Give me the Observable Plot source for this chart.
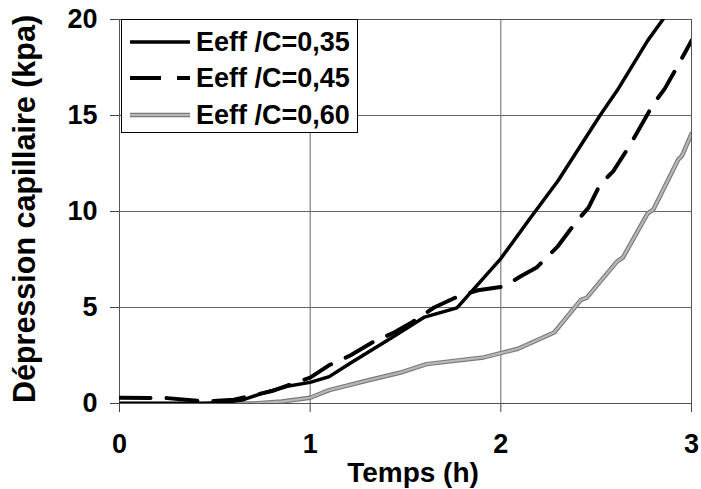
<!DOCTYPE html>
<html>
<head>
<meta charset="utf-8">
<script src="https://cdn.jsdelivr.net/npm/d3@7"></script>
<script src="https://cdn.jsdelivr.net/npm/@observablehq/plot@0.6"></script>
<style>
  html, body { margin: 0; padding: 0; background: #fff; }
  #chart { position: relative; width: 701px; height: 489px; }
</style>
</head>
<body>
<div id="chart"></div>
<script>
// Series labels
const seriesNames = ["Eeff /C=0,35", "Eeff /C=0,45", "Eeff /C=0,60"];

// Eeff/C = 0,35 (solid black)
const time035 = [0, 0.2, 0.44, 0.55, 0.65, 0.74, 0.88, 1.0, 1.1, 1.21, 1.44, 1.6, 1.77, 2.0, 2.15, 2.3, 2.52, 2.61, 2.77, 2.85];
const dep035  = [0, 0, 0, 0.05, 0.2, 0.5, 0.9, 1.1, 1.4, 2.1, 3.5, 4.5, 4.98, 7.55, 9.6, 11.6, 15.0, 16.3, 18.9, 20.0];

// Eeff/C = 0,45 (dashed black)
const time045 = [0, 0.25, 0.45, 0.6, 0.8, 1.0, 1.1, 1.21, 1.33, 1.44, 1.53, 1.65, 1.78, 1.88, 2.02, 2.10, 2.19, 2.30, 2.39, 2.46, 2.52, 2.59, 2.68, 2.80, 2.86, 2.94, 3.0];
const dep045  = [0.3, 0.28, 0.1, 0.2, 0.65, 1.35, 2.0, 2.5, 3.2, 3.7, 4.2, 5.0, 5.6, 5.9, 6.1, 6.6, 7.1, 8.2, 9.4, 10.2, 11.4, 12.1, 13.5, 15.6, 16.4, 17.8, 18.9];

// Eeff/C = 0,60 (grey)
const time060 = [0, 0.7, 0.85, 1.0, 1.1, 1.3, 1.47, 1.61, 1.91, 2.09, 2.28, 2.42, 2.45, 2.61, 2.64, 2.77, 2.8, 2.93, 2.95, 3.0];
const dep060  = [0, 0, 0.1, 0.3, 0.7, 1.2, 1.6, 2.05, 2.4, 2.85, 3.7, 5.4, 5.5, 7.4, 7.6, 9.9, 10.1, 12.7, 12.9, 14.05];

// Axis ticks and titles
const xTicks = [0, 1, 2, 3];
const yTicks = [0, 5, 10, 15, 20];
const xTitle = "Temps (h)";
const yTitle = "Dépression capillaire (kpa)";

const toRows = (t, v) => t.map((x, i) => ({x, y: v[i]}));
const rows035 = toRows(time035, dep035);
const rows045 = toRows(time045, dep045);
const rows060 = toRows(time060, dep060);

const FONT = "'Liberation Sans', Arial, sans-serif";

const plot = Plot.plot({
  width: 701,
  height: 489,
  marginLeft: 119,
  marginRight: 10,
  marginTop: 19,
  marginBottom: 86,
  style: {fontFamily: FONT, fontWeight: "bold", fontSize: "27px", background: "#fff", color: "#000"},
  x: {domain: [0, 3], ticks: xTicks, label: null},
  y: {domain: [0, 20], ticks: yTicks, label: null},
  marks: [
    Plot.gridX(xTicks, {stroke: "#666", strokeOpacity: 1}),
    Plot.gridY(yTicks, {stroke: "#666", strokeOpacity: 1}),
    Plot.frame({stroke: "#555"}),
    Plot.axisX(xTicks, {tickSize: 9, tickPadding: 21, tickFormat: d => String(d), stroke: "#444", label: null}),
    Plot.axisY(yTicks, {tickSize: 9, tickPadding: 13, tickFormat: d => String(d), stroke: "#444", label: null}),
    Plot.line(rows060, {x: "x", y: "y", stroke: "#7a7a7a", strokeWidth: 4.5, clip: true}),
    Plot.line(rows060, {x: "x", y: "y", stroke: "#b8b8b8", strokeWidth: 2.2, clip: true}),
    Plot.line(rows045, {x: "x", y: "y", stroke: "#000", strokeWidth: 4, strokeDasharray: "31,16", clip: true}),
    Plot.line(rows035, {x: "x", y: "y", stroke: "#000", strokeWidth: 3.5, clip: true})
  ]
});

document.getElementById("chart").appendChild(plot);

const svg = d3.select(plot);

// Axis titles
svg.append("text")
  .attr("x", 413).attr("y", 482)
  .attr("text-anchor", "middle")
  .attr("font-family", FONT).attr("font-weight", "bold").attr("font-size", 28)
  .attr("fill", "#000")
  .text(xTitle);

svg.append("text")
  .attr("transform", "translate(35,209) rotate(-90)")
  .attr("text-anchor", "middle")
  .attr("font-family", FONT).attr("font-weight", "bold").attr("font-size", 30.5)
  .attr("fill", "#000")
  .text(yTitle);

// Legend
const lg = svg.append("g");
lg.append("rect")
  .attr("x", 121.5).attr("y", 19.5).attr("width", 236).attr("height", 113)
  .attr("fill", "#fff").attr("stroke", "#000").attr("stroke-width", 1);
const sampleY = [42, 78, 115];
const baseY = [51, 87, 124];
const styles = [
  [{stroke: "#000", w: 3.5, dash: null}],
  [{stroke: "#000", w: 4, dash: "31,16"}],
  [{stroke: "#7a7a7a", w: 4.5, dash: null}, {stroke: "#b8b8b8", w: 2.2, dash: null}]
];
seriesNames.forEach((name, i) => {
  styles[i].forEach(s => {
    lg.append("line")
      .attr("x1", 130).attr("x2", 190)
      .attr("y1", sampleY[i]).attr("y2", sampleY[i])
      .attr("stroke", s.stroke).attr("stroke-width", s.w)
      .attr("stroke-dasharray", s.dash);
  });
  lg.append("text")
    .attr("x", 196).attr("y", baseY[i])
    .attr("text-anchor", "start")
    .attr("font-family", FONT).attr("font-weight", "bold").attr("font-size", 27)
    .attr("fill", "#000")
    .text(name);
});
</script>
</body>
</html>
